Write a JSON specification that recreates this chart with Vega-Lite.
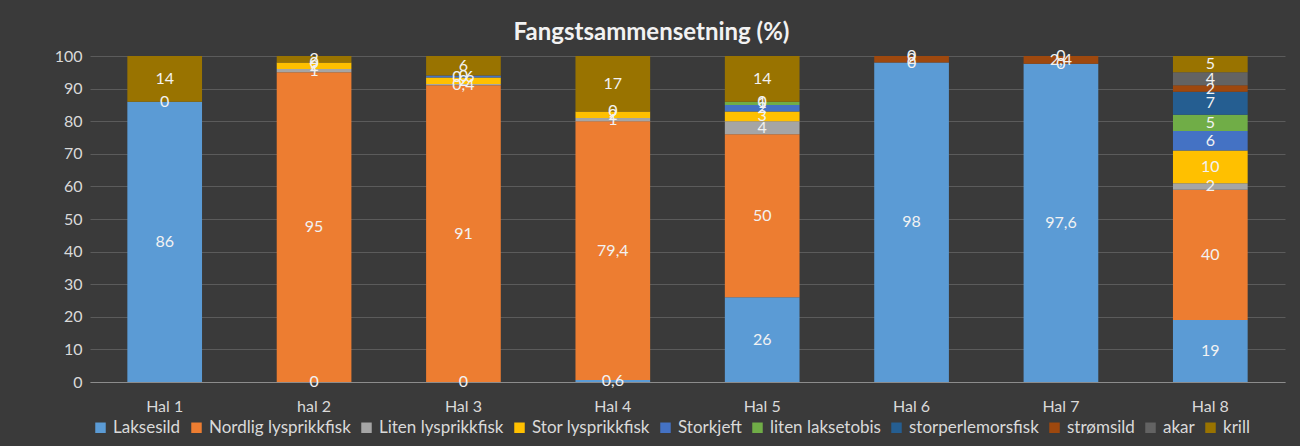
{
  "$schema": "https://vega.github.io/schema/vega-lite/v6.json",
  "width": 1195,
  "height": 326,
  "autosize": {"type": "none"},
  "padding": {"left": 90, "top": 56, "right": 15, "bottom": 64},
  "background": "#3a3a3a",
  "title": {"text": "Fangstsammensetning  (%)", "anchor": "middle", "frame": "group", "dx": -36, "offset": 3, "fontSize": 24, "font": "Lato", "fontWeight": "bold", "color": "#f2f2f2"},
  "config": {
    "view": {"stroke": null},
    "axisY": {"values": [0, 10, 20, 30, 40, 50, 60, 70, 80, 90, 100], "labelOverlap": false},
    "locale": {"number": {"decimal": ",", "thousands": " ", "grouping": [3], "currency": ["", " kr"]}}
  },
  "data": {"values": [
    {"hal": "Hal 1", "art": "Laksesild", "k": 1, "pct": 86},
    {"hal": "Hal 1", "art": "Nordlig lysprikkfisk", "k": 2, "pct": 0},
    {"hal": "Hal 1", "art": "krill", "k": 10, "pct": 14},
    {"hal": "hal 2", "art": "Laksesild", "k": 1, "pct": 0},
    {"hal": "hal 2", "art": "Nordlig lysprikkfisk", "k": 2, "pct": 95},
    {"hal": "hal 2", "art": "Liten lysprikkfisk", "k": 3, "pct": 1},
    {"hal": "hal 2", "art": "Stor lysprikkfisk", "k": 4, "pct": 2},
    {"hal": "hal 2", "art": "Storkjeft", "k": 5, "pct": 0},
    {"hal": "hal 2", "art": "krill", "k": 10, "pct": 2},
    {"hal": "Hal 3", "art": "Laksesild", "k": 1, "pct": 0},
    {"hal": "Hal 3", "art": "Nordlig lysprikkfisk", "k": 2, "pct": 91},
    {"hal": "Hal 3", "art": "Liten lysprikkfisk", "k": 3, "pct": 0.4},
    {"hal": "Hal 3", "art": "Stor lysprikkfisk", "k": 4, "pct": 2},
    {"hal": "Hal 3", "art": "Storkjeft", "k": 5, "pct": 0.6},
    {"hal": "Hal 3", "art": "liten laksetobis", "k": 6, "pct": 0},
    {"hal": "Hal 3", "art": "krill", "k": 10, "pct": 6},
    {"hal": "Hal 4", "art": "Laksesild", "k": 1, "pct": 0.6},
    {"hal": "Hal 4", "art": "Nordlig lysprikkfisk", "k": 2, "pct": 79.4},
    {"hal": "Hal 4", "art": "Liten lysprikkfisk", "k": 3, "pct": 1},
    {"hal": "Hal 4", "art": "Stor lysprikkfisk", "k": 4, "pct": 2},
    {"hal": "Hal 4", "art": "Storkjeft", "k": 5, "pct": 0},
    {"hal": "Hal 4", "art": "krill", "k": 10, "pct": 17},
    {"hal": "Hal 5", "art": "Laksesild", "k": 1, "pct": 26},
    {"hal": "Hal 5", "art": "Nordlig lysprikkfisk", "k": 2, "pct": 50},
    {"hal": "Hal 5", "art": "Liten lysprikkfisk", "k": 3, "pct": 4},
    {"hal": "Hal 5", "art": "Stor lysprikkfisk", "k": 4, "pct": 3},
    {"hal": "Hal 5", "art": "Storkjeft", "k": 5, "pct": 2},
    {"hal": "Hal 5", "art": "liten laksetobis", "k": 6, "pct": 1},
    {"hal": "Hal 5", "art": "storperlemorsfisk", "k": 7, "pct": 0},
    {"hal": "Hal 5", "art": "krill", "k": 10, "pct": 14},
    {"hal": "Hal 6", "art": "Laksesild", "k": 1, "pct": 98},
    {"hal": "Hal 6", "art": "Nordlig lysprikkfisk", "k": 2, "pct": 0},
    {"hal": "Hal 6", "art": "strømsild", "k": 8, "pct": 2},
    {"hal": "Hal 6", "art": "krill", "k": 10, "pct": 0},
    {"hal": "Hal 7", "art": "Laksesild", "k": 1, "pct": 97.6},
    {"hal": "Hal 7", "art": "Nordlig lysprikkfisk", "k": 2, "pct": 0},
    {"hal": "Hal 7", "art": "strømsild", "k": 8, "pct": 2.4},
    {"hal": "Hal 7", "art": "krill", "k": 10, "pct": 0},
    {"hal": "Hal 8", "art": "Laksesild", "k": 1, "pct": 19},
    {"hal": "Hal 8", "art": "Nordlig lysprikkfisk", "k": 2, "pct": 40},
    {"hal": "Hal 8", "art": "Liten lysprikkfisk", "k": 3, "pct": 2},
    {"hal": "Hal 8", "art": "Stor lysprikkfisk", "k": 4, "pct": 10},
    {"hal": "Hal 8", "art": "Storkjeft", "k": 5, "pct": 6},
    {"hal": "Hal 8", "art": "liten laksetobis", "k": 6, "pct": 5},
    {"hal": "Hal 8", "art": "storperlemorsfisk", "k": 7, "pct": 7},
    {"hal": "Hal 8", "art": "strømsild", "k": 8, "pct": 2},
    {"hal": "Hal 8", "art": "akar", "k": 9, "pct": 4},
    {"hal": "Hal 8", "art": "krill", "k": 10, "pct": 5}
  ]},
  "encoding": {
    "x": {
      "field": "hal", "type": "nominal", "sort": null,
      "scale": {"paddingInner": 0.5, "paddingOuter": 0.25},
      "axis": {"title": null, "labelAngle": 0, "ticks": false, "domainColor": "#8c8c8c", "labelColor": "#d9d9d9", "labelFontSize": 16, "labelFont": "Lato", "labelPadding": 16}
    },
    "order": {"field": "k", "type": "quantitative"}
  },
  "layer": [
    {
      "mark": {"type": "bar"},
      "encoding": {
        "y": {
          "field": "pct", "type": "quantitative", "stack": "zero",
          "scale": {"domain": [0, 100]},
          "axis": {"title": null, "values": [0, 10, 20, 30, 40, 50, 60, 70, 80, 90, 100], "labelOverlap": false, "domain": false, "ticks": false, "grid": true, "gridColor": "#5b5b5b", "labelColor": "#d9d9d9", "labelFontSize": 16, "labelFont": "Lato", "labelPadding": 8}
        },
        "color": {
          "field": "art", "type": "nominal",
          "scale": {
            "domain": ["Laksesild", "Nordlig lysprikkfisk", "Liten lysprikkfisk", "Stor lysprikkfisk", "Storkjeft", "liten laksetobis", "storperlemorsfisk", "strømsild", "akar", "krill"],
            "range": ["#5B9BD5", "#ED7D31", "#A5A5A5", "#FFC000", "#4472C4", "#70AD47", "#255E91", "#9E480E", "#636363", "#997300"]
          },
          "legend": {"title": null, "orient": "none", "legendX": 2, "legendY": 363, "direction": "horizontal", "columns": 10, "symbolType": "square", "symbolSize": 110, "symbolStrokeWidth": 0, "labelFontSize": 17, "labelColor": "#d9d9d9", "labelFont": "Lato", "columnPadding": 7, "labelOffset": 4}
        }
      }
    },
    {
      "mark": {"type": "text", "fontSize": 16, "color": "#f2f2f2", "font": "Lato"},
      "encoding": {
        "y": {
          "field": "pct", "type": "quantitative", "stack": "zero", "bandPosition": 0.5,
          "axis": {"title": null, "values": [0, 10, 20, 30, 40, 50, 60, 70, 80, 90, 100], "labelOverlap": false, "domain": false, "ticks": false, "grid": true, "gridColor": "#5b5b5b", "labelColor": "#d9d9d9", "labelFontSize": 16, "labelFont": "Lato", "labelPadding": 8}
        },
        "detail": {"field": "art", "type": "nominal"},
        "text": {"field": "pct", "type": "quantitative", "format": "~g"}
      }
    }
  ]
}
